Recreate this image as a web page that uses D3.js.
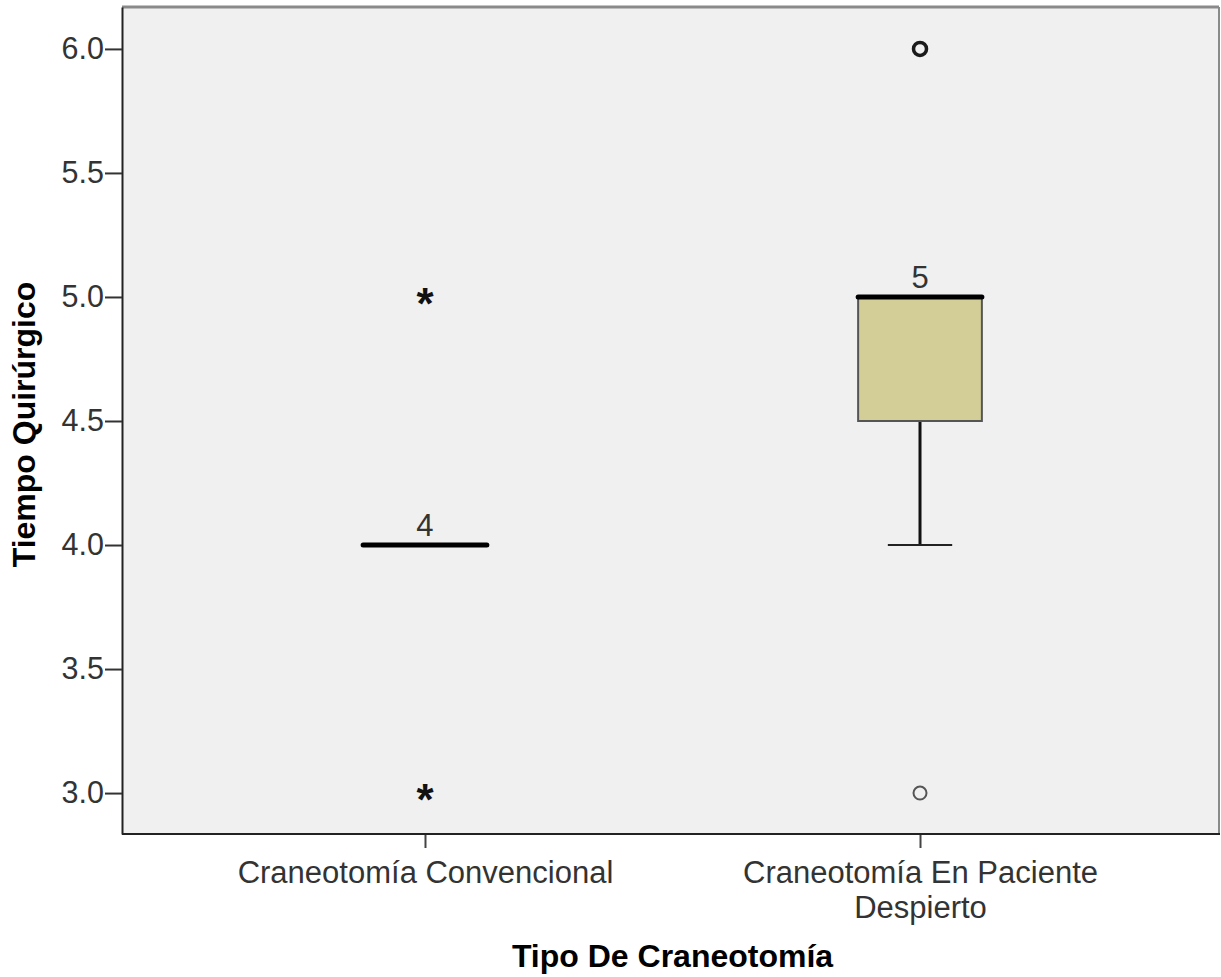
<!DOCTYPE html>
<html><head><meta charset="utf-8">
<script src="https://cdn.jsdelivr.net/npm/d3@7"></script>
<style>
html,body{margin:0;padding:0;background:#fff;}
svg{display:block;font-family:"Liberation Sans",Arial,sans-serif;}
</style></head>
<body>
<svg id="chart" width="1221" height="977"></svg>
<script>
// ---- data ----
const categories = ["Craneotomía Convencional", "Craneotomía En Paciente Despierto"];
const categoryLines = [["Craneotomía Convencional"], ["Craneotomía En Paciente", "Despierto"]];
const q1 = [4.0, 4.5];
const median = [4.0, 5.0];
const q3 = [4.0, 5.0];
const whiskerLow = [4.0, 4.0];
const whiskerHigh = [4.0, 5.0];
const outlierCat = [1, 1];          // circles
const outlierVal = [6.0, 3.0];
const outlierBold = [true, false];
const extremeCat = [0, 0];          // stars
const extremeVal = [5.0, 3.0];
const caseLabelCat = [0, 1];
const caseLabelVal = [4.0, 5.0];
const caseLabelText = ["4", "5"];
const yTicks = [3.0, 3.5, 4.0, 4.5, 5.0, 5.5, 6.0];
const yTitle = "Tiempo Quirúrgico";
const xTitle = "Tipo De Craneotomía";

// ---- layout ----
const pL = 122, pR = 1219, pT = 7, pB = 834;
const FONT = "Liberation Sans, Arial, sans-serif";
const svg = d3.select("#chart");

const y = d3.scaleLinear().domain([2.835, 6.169]).range([pB, pT]);
const x = d3.scalePoint().domain(categories).range([pL + 4, pR]).padding(0.604);
const step = x.step();
const boxW = step * 0.25;
const capW = boxW * 0.52;

// background
svg.append("rect").attr("x", pL).attr("y", pT).attr("width", pR - pL).attr("height", pB - pT)
  .attr("fill", "#f0f0f0");

// frame: top & right gray, bottom dark
svg.append("line").attr("x1", pL).attr("x2", pR).attr("y1", pT).attr("y2", pT)
  .attr("stroke", "#8a8a8a").attr("stroke-width", 3);
svg.append("line").attr("x1", pR).attr("x2", pR).attr("y1", pT).attr("y2", pB)
  .attr("stroke", "#8a8a8a").attr("stroke-width", 2);

// x axis
const xAxis = d3.axisBottom(x).tickSize(14).tickSizeOuter(0).tickFormat("");
const gx = svg.append("g").attr("transform", `translate(0,${pB})`).call(xAxis);
gx.select(".domain").remove();
gx.selectAll(".tick line").attr("stroke", "#444").attr("stroke-width", 2);
gx.selectAll(".tick").each(function(d, i) {
  const t = d3.select(this).append("text").attr("text-anchor", "middle")
    .attr("font-size", 31).attr("fill", "#333").attr("y", 49).attr("font-family", FONT);
  categoryLines[i].forEach((ln, j) => {
    t.append("tspan").attr("x", 0).attr("dy", j === 0 ? 0 : 35).text(ln);
  });
});
svg.append("line").attr("x1", pL).attr("x2", pR + 1).attr("y1", pB).attr("y2", pB)
  .attr("stroke", "#222").attr("stroke-width", 2);

// y axis
const yAxis = d3.axisLeft(y).tickValues(yTicks).tickFormat(d3.format(".1f"))
  .tickSize(17).tickSizeOuter(0).tickPadding(1);
const gy = svg.append("g").attr("transform", `translate(${pL},0)`).call(yAxis);
gy.select(".domain").attr("stroke", "#222").attr("stroke-width", 2);
gy.selectAll(".tick line").attr("stroke", "#333").attr("stroke-width", 2);
gy.selectAll(".tick text").attr("font-size", 30.5).attr("fill", "#333").attr("font-family", FONT);

// boxes
const g = svg.append("g");
categories.forEach((c, i) => {
  const cx = x(c);
  if (whiskerLow[i] < q1[i]) {
    g.append("line").attr("x1", cx).attr("x2", cx).attr("y1", y(q1[i])).attr("y2", y(whiskerLow[i]))
      .attr("stroke", "#111").attr("stroke-width", 3);
    g.append("line").attr("x1", cx - capW / 2).attr("x2", cx + capW / 2)
      .attr("y1", y(whiskerLow[i])).attr("y2", y(whiskerLow[i]))
      .attr("stroke", "#222").attr("stroke-width", 2);
  }
  if (whiskerHigh[i] > q3[i]) {
    g.append("line").attr("x1", cx).attr("x2", cx).attr("y1", y(q3[i])).attr("y2", y(whiskerHigh[i]))
      .attr("stroke", "#111").attr("stroke-width", 3);
    g.append("line").attr("x1", cx - capW / 2).attr("x2", cx + capW / 2)
      .attr("y1", y(whiskerHigh[i])).attr("y2", y(whiskerHigh[i]))
      .attr("stroke", "#222").attr("stroke-width", 2);
  }
  if (q3[i] > q1[i]) {
    g.append("rect").attr("x", cx - boxW / 2).attr("y", y(q3[i])).attr("width", boxW)
      .attr("height", y(q1[i]) - y(q3[i]))
      .attr("fill", "#d3ce98").attr("stroke", "#555").attr("stroke-width", 2);
  }
  g.append("line").attr("x1", cx - boxW / 2).attr("x2", cx + boxW / 2)
    .attr("y1", y(median[i])).attr("y2", y(median[i]))
    .attr("stroke", "#000").attr("stroke-width", 5).attr("stroke-linecap", "round");
});

// outliers (circles)
outlierVal.forEach((v, i) => {
  g.append("circle").attr("cx", x(categories[outlierCat[i]])).attr("cy", y(v))
    .attr("r", 6.5)
    .attr("fill", "none").attr("stroke", outlierBold[i] ? "#1a1a1a" : "#555")
    .attr("stroke-width", outlierBold[i] ? 3.5 : 2);
});

// extremes (stars) - glyph centred on the value
extremeVal.forEach((v, i) => {
  const cx = x(categories[extremeCat[i]]);
  const t = g.append("text").attr("x", cx).attr("y", y(v))
    .attr("text-anchor", "middle").attr("font-size", 44).attr("font-weight", "bold")
    .attr("font-family", FONT).attr("fill", "#111").text("*");
  const bb = t.node().getBBox();
  const glyphTop = bb.y + bb.height * 0.18;
  const glyphH = 0.42 * 44;
  t.attr("y", y(v) - (glyphTop + glyphH / 2 - y(v)));
});

// case labels
caseLabelVal.forEach((v, i) => {
  g.append("text").attr("x", x(categories[caseLabelCat[i]])).attr("y", y(v) - 9)
    .attr("text-anchor", "middle").attr("font-size", 31).attr("font-family", FONT)
    .attr("fill", "#333").text(caseLabelText[i]);
});

// titles
svg.append("text").attr("x", (pL + pR) / 2 + 2).attr("y", 967).attr("text-anchor", "middle")
  .attr("font-size", 32).attr("font-weight", "bold").attr("font-family", FONT)
  .attr("fill", "#000").text(xTitle);
svg.append("text").attr("transform", `translate(35,${(pT + pB) / 2 + 4}) rotate(-90)`)
  .attr("text-anchor", "middle").attr("font-size", 32).attr("font-weight", "bold")
  .attr("font-family", FONT).attr("fill", "#000").text(yTitle);
</script>
</body></html>
